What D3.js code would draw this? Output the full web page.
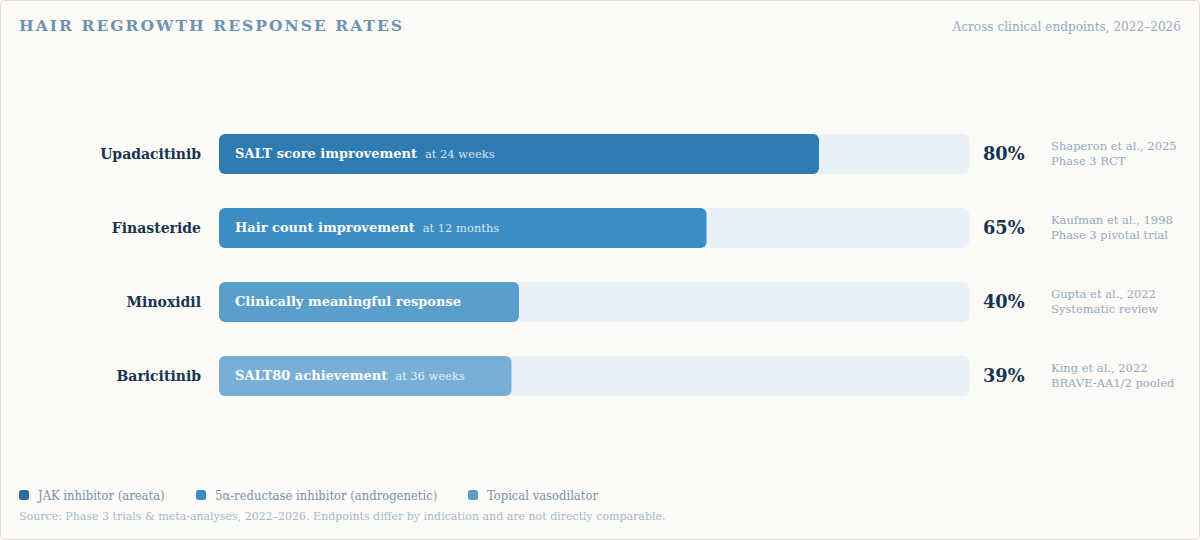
<!DOCTYPE html>
<html>
<head>
<meta charset="utf-8">
<script src="https://cdn.jsdelivr.net/npm/d3@7"></script>
<style>
  html, body { margin: 0; padding: 0; background: #fcfbf8; }
  svg { display: block; font-family: "DejaVu Serif", serif; }
</style>
</head>
<body>
<div id="chart"></div>
<script>
const drugs = ['Upadacitinib', 'Finasteride', 'Minoxidil', 'Baricitinib'];
const rates = [80, 65, 40, 39];
const endpoints = ['SALT score improvement', 'Hair count improvement', 'Clinically meaningful response', 'SALT80 achievement'];
const timepoints = ['at 24 weeks', 'at 12 months', '', 'at 36 weeks'];
const citations = ['Shaperon et al., 2025', 'Kaufman et al., 1998', 'Gupta et al., 2022', 'King et al., 2022'];
const designs = ['Phase 3 RCT', 'Phase 3 pivotal trial', 'Systematic review', 'BRAVE-AA1/2 pooled'];
const barColors = ['#2d7bb1', '#3b8dc3', '#5a9fcc', '#78afd6'];
const legendLabels = ['JAK inhibitor (areata)', '5α-reductase inhibitor (androgenetic)', 'Topical vasodilator'];
const legendColors = ['#2d6fa5', '#3b8dc3', '#5a9fcc'];

const width = 1200, height = 540;

const svg = d3.select('#chart').append('svg')
  .attr('width', width)
  .attr('height', height);

svg.append('rect')
  .attr('x', 0.5).attr('y', 0.5)
  .attr('width', width - 1).attr('height', height - 1)
  .attr('rx', 4)
  .attr('fill', '#fcfbf8')
  .attr('stroke', '#e2dfd2');

svg.append('text')
  .attr('x', 19).attr('y', 31)
  .attr('fill', '#6e92b0')
  .attr('font-size', 15.5)
  .attr('font-weight', 'bold')
  .attr('letter-spacing', 2.05)
  .text('HAIR REGROWTH RESPONSE RATES');

svg.append('text')
  .attr('x', 1181).attr('y', 30.5)
  .attr('text-anchor', 'end')
  .attr('fill', '#94abc2')
  .attr('font-size', 12.1)
  .text('Across clinical endpoints, 2022–2026');

const x = d3.scaleLinear().domain([0, 100]).range([219, 969]);
const y = d3.scaleBand().domain(drugs).range([134, 396]).paddingInner(34 / 74).paddingOuter(0);

const rows = svg.append('g').selectAll('g')
  .data(drugs)
  .enter()
  .append('g')
  .attr('transform', (d) => 'translate(0,' + y(d) + ')');

const bh = y.bandwidth();

rows.append('rect')
  .attr('x', x(0))
  .attr('width', x(100) - x(0))
  .attr('height', bh)
  .attr('rx', 6)
  .attr('fill', '#e8f0f8');

rows.append('rect')
  .attr('x', x(0))
  .attr('width', (d, i) => x(rates[i]) - x(0))
  .attr('height', bh)
  .attr('rx', 6)
  .attr('fill', (d, i) => barColors[i]);

rows.append('text')
  .attr('x', 201)
  .attr('y', bh / 2)
  .attr('dy', '0.33em')
  .attr('text-anchor', 'end')
  .attr('fill', '#183450')
  .attr('font-size', 14)
  .attr('font-weight', 'bold')
  .text((d) => d);

const inner = rows.append('text')
  .attr('x', x(0) + 16)
  .attr('y', bh / 2)
  .attr('dy', '0.28em')
  .attr('fill', '#fff');
inner.append('tspan')
  .attr('font-size', 13)
  .attr('font-weight', 'bold')
  .text((d, i) => endpoints[i]);
inner.append('tspan')
  .attr('dx', 8)
  .attr('font-size', 11.5)
  .attr('fill-opacity', 0.82)
  .text((d, i) => timepoints[i]);

rows.append('text')
  .attr('x', 983)
  .attr('y', bh / 2)
  .attr('dy', '0.35em')
  .attr('fill', '#183450')
  .attr('font-size', 17.8)
  .attr('font-weight', 'bold')
  .text((d, i) => rates[i] + '%');

rows.append('text')
  .attr('x', 1051)
  .attr('y', bh / 2 - 4)
  .attr('fill', '#93a9bf')
  .attr('font-size', 11.5)
  .text((d, i) => citations[i]);

rows.append('text')
  .attr('x', 1051)
  .attr('y', bh / 2 + 11)
  .attr('fill', '#93a9bf')
  .attr('font-size', 11.5)
  .text((d, i) => designs[i]);

const legendX = [19, 196, 468];
const legend = svg.append('g').selectAll('g')
  .data(legendLabels)
  .enter()
  .append('g')
  .attr('transform', (d, i) => 'translate(' + legendX[i] + ',490)');

legend.append('rect')
  .attr('width', 10).attr('height', 10)
  .attr('rx', 2.5)
  .attr('fill', (d, i) => legendColors[i]);

legend.append('text')
  .attr('x', 19)
  .attr('y', 5)
  .attr('dy', '0.35em')
  .attr('fill', '#7692ad')
  .attr('font-size', 12.9)
  .attr('font-family', '"DejaVu Serif Condensed", "DejaVu Serif", serif')
  .text((d) => d);

svg.append('text')
  .attr('x', 19).attr('y', 520)
  .attr('fill', '#a3b8cc')
  .attr('font-size', 11)
  .text('Source: Phase 3 trials & meta-analyses, 2022–2026. Endpoints differ by indication and are not directly comparable.');
</script>
</body>
</html>
